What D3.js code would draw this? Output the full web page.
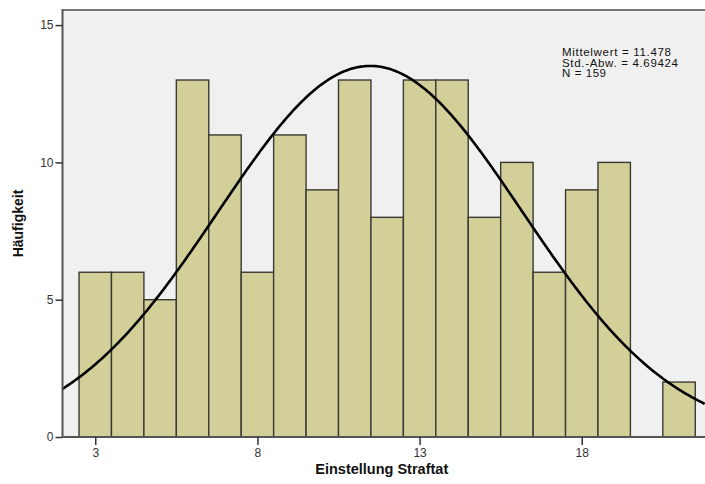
<!DOCTYPE html>
<html>
<head>
<meta charset="utf-8">
<script src="https://cdn.jsdelivr.net/npm/d3@7"></script>
<style>
  body { margin: 0; background: #fff; }
  text { font-family: "Liberation Sans", Arial, sans-serif; }
</style>
</head>
<body>
<script>
// Einstellung Straftat values and frequencies
const scores = [3, 4, 5, 6, 7, 8, 9, 10, 11, 12, 13, 14, 15, 16, 17, 18, 19, 20, 21];
const counts = [6, 6, 5, 13, 11, 6, 11, 9, 13, 8, 13, 13, 8, 10, 6, 9, 10, 0, 2];
const xTicks = [3, 8, 13, 18];
const yTicks = [0, 5, 10, 15];
const mean = 11.478;
const sd = 4.69424;
const n = 159;
const statLines = ["Mittelwert = 11.478", "Std.-Abw. = 4.69424", "N = 159"];

const width = 705, height = 484;
const margin = { top: 10, right: 0, bottom: 47, left: 62.5 };

const svg = d3.select("body").append("svg")
    .attr("width", width)
    .attr("height", height);

const x = d3.scaleLinear()
    .domain([1.99, 21.8])
    .range([margin.left, width - margin.right]);

const y = d3.scaleLinear()
    .domain([0, 15.55])
    .range([height - margin.bottom, margin.top]);

// plot background
svg.append("rect")
    .attr("x", margin.left)
    .attr("y", margin.top)
    .attr("width", width - margin.right - margin.left)
    .attr("height", height - margin.bottom - margin.top)
    .attr("fill", "#f0f0f0");

svg.append("line")
    .attr("x1", margin.left).attr("x2", width)
    .attr("y1", margin.top).attr("y2", margin.top)
    .attr("stroke", "#777").attr("stroke-width", 2);

// bars
const data = scores.map((s, i) => ({ s, c: counts[i] })).filter(d => d.c > 0);
svg.append("g")
    .selectAll("rect")
    .data(data)
    .join("rect")
    .attr("x", d => x(d.s - 0.5))
    .attr("y", d => y(d.c))
    .attr("width", d => x(d.s + 0.5) - x(d.s - 0.5))
    .attr("height", d => y(0) - y(d.c))
    .attr("fill", "#d3cf98")
    .attr("stroke", "#3a3a35")
    .attr("stroke-width", 1.4);

// normal curve
const dens = v => n / (sd * Math.sqrt(2 * Math.PI)) * Math.exp(-0.5 * ((v - mean) / sd) ** 2);
const curvePts = d3.range(x.domain()[0], x.domain()[1] + 0.01, 0.05);
svg.append("path")
    .datum(curvePts)
    .attr("fill", "none")
    .attr("stroke", "#000")
    .attr("stroke-width", 2.6)
    .attr("d", d3.line().x(d => x(d)).y(d => y(dens(d))));

// axes
const xAxis = svg.append("g")
    .attr("transform", `translate(0,${y(0)})`)
    .call(d3.axisBottom(x).tickValues(xTicks).tickSize(8).tickPadding(3).tickSizeOuter(0));
const yAxis = svg.append("g")
    .attr("transform", `translate(${margin.left},0)`)
    .call(d3.axisLeft(y).tickValues(yTicks).tickSize(7).tickPadding(2).tickSizeOuter(0));

[xAxis, yAxis].forEach(g => {
    g.select(".domain").attr("stroke", "#555").attr("stroke-width", 2);
    g.selectAll(".tick line").attr("stroke", "#333").attr("stroke-width", 1.5);
    g.selectAll(".tick text").attr("fill", "#333").style("font-size", "12px")
        .style("font-family", "'Liberation Sans', Arial, sans-serif");
});
yAxis.select(".domain").attr("d", `M0,${y(0)}V${margin.top - 1}`);
xAxis.select(".domain").attr("d", `M${margin.left},0H${width}`);

// axis titles
svg.append("text")
    .attr("x", (margin.left + width) / 2 - 2)
    .attr("y", 474)
    .attr("text-anchor", "middle")
    .attr("font-weight", "bold")
    .attr("font-size", 14.5)
    .attr("fill", "#111")
    .text("Einstellung Straftat");

svg.append("text")
    .attr("transform", `translate(23,${(margin.top + y(0)) / 2}) rotate(-90)`)
    .attr("text-anchor", "middle")
    .attr("font-weight", "bold")
    .attr("font-size", 14)
    .attr("fill", "#111")
    .text("Häufigkeit");

// stats box
svg.append("g")
    .selectAll("text")
    .data(statLines)
    .join("text")
    .attr("x", 562)
    .attr("y", (d, i) => 56 + i * 10.5)
    .attr("font-size", 11.5)
    .attr("fill", "#111")
    .attr("textLength", (d, i) => [109, 116, 44][i])
    .text(d => d);
</script>
</body>
</html>
